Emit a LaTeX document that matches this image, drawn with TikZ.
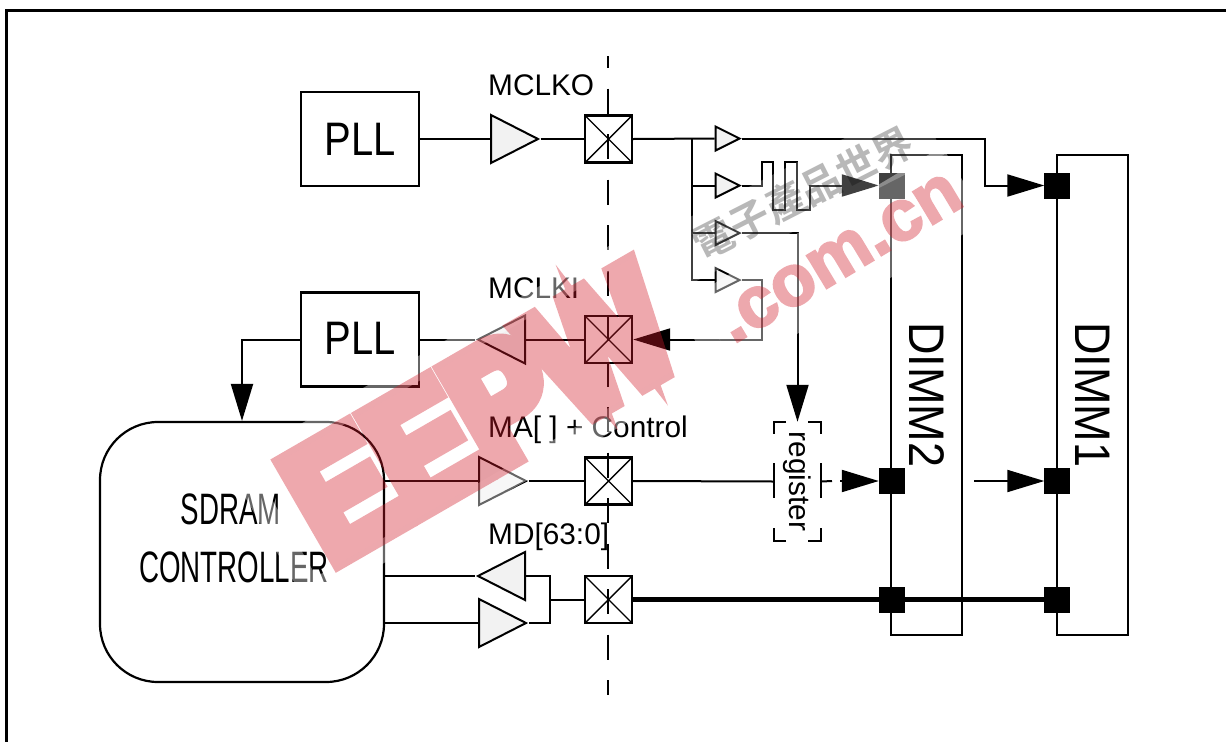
\documentclass[tikz,border=0pt]{standalone}
\usepackage{fontspec}
\setmainfont{Liberation Sans}
\newfontfamily\narrowfont[FakeStretch=.63]{Liberation Sans}
\newfontfamily\pllfont[FakeStretch=.85]{Liberation Sans}
\newfontfamily\dimmfont[FakeStretch=.9]{Liberation Sans}
\newfontfamily\markfont[FakeBold=10,FakeStretch=.84]{Liberation Sans Bold}
\newfontfamily\dotfont[FakeBold=3]{Liberation Sans Bold}
\newfontfamily\cjkmark{Noto Sans CJK TC Bold}
\usetikzlibrary{arrows.meta,calc,positioning}
\usetikzlibrary{shapes.geometric}
\definecolor{markred}{RGB}{210,26,40}
\tikzset{
wire/.style={line width=2pt},
tip/.style={-{Triangle[length=37pt,width=22pt]}},
blockbox/.style={draw,line width=2.2pt,minimum width=118pt,minimum height=94pt,inner sep=0pt},
buf/.style={isosceles triangle,isosceles triangle stretches,draw,line width=2pt,fill=black!5,inner sep=0pt,minimum width=48pt,minimum height=47pt,anchor=lower side},
smallbuf/.style={buf,minimum width=24pt,minimum height=24pt},
back/.style={shape border rotate=180},
pad/.style={draw,line width=2.4pt,minimum size=47pt,inner sep=0pt,
path picture={\draw[line width=1.4pt] (path picture bounding box.north west)--(path picture bounding box.south east)
(path picture bounding box.north east)--(path picture bounding box.south west);}},
drop/.style={draw,fill=black,minimum size=25pt,inner sep=0pt},
dimm/.style={draw,line width=2pt,rotate=-90,minimum width=480pt,minimum height=71pt,inner sep=0pt,font=\fontsize{50}{50}\dimmfont},
lab/.style={anchor=base west,inner sep=0pt,font=\fontsize{29.8}{30}\selectfont}
}
\begin{document}
\begin{tikzpicture}[x=1pt,y=-1pt]
\useasboundingbox (0,0) rectangle (1226,742);
\coordinate (F1) at (1226,10.5);
\coordinate (F2) at (6.5,10.5);
\coordinate (F3) at (6.5,742);
\draw[line width=2.6pt] (F1)--(F2)--(F3);
\node[blockbox,font=\fontsize{47}{47}\pllfont] (PLL1) at (360,139) {PLL};
\node[blockbox,font=\fontsize{47}{47}\pllfont] (PLL2) at (360,339.5) {\raisebox{2pt}{PLL}};
\node[draw,line width=2.2pt,rounded corners=58pt,minimum width=284pt,minimum height=260pt] (Ctl) at (242,552) {};
\node[font=\fontsize{44}{44}\narrowfont] (CtlA) at (231,509) {SDRAM};
\node[font=\fontsize{44}{44}\narrowfont] (CtlB) at (234,567) {CONTROLLER};
\node[buf] (T1) at (490,139) {};
\node[buf,back] (T2) at (526,339.5) {};
\node[buf] (T3) at (478,481) {};
\node[buf,back] (T4) at (526,576) {};
\node[buf] (T5) at (478,623) {};
\node[smallbuf] (S1) at (714.5,138.5) {};
\node[smallbuf] (S2) at (714.5,185.5) {};
\node[smallbuf] (S3) at (714.5,233) {};
\node[smallbuf] (S4) at (714.5,280) {};
\coordinate (C1) at (608,56);
\coordinate (C2) at (608,695);
\draw[wire,dash pattern=on 25pt off 20.5pt,dash phase=13pt] (C1)--(C2);
\node[pad] (P1) at (608.5,139) {};
\node[pad] (P2) at (608.5,339.5) {};
\node[pad] (P3) at (608.5,481) {};
\node[pad] (P4) at (608.5,599.5) {};
\node[dimm] (D2) at (926.5,395) {DIMM2};
\node[dimm] (D1) at (1092.5,395) {DIMM1};
\node[drop] (Q1) at (891.5,185.5) {};
\node[drop] (Q2) at (1057,185.5) {};
\node[drop] (Q3) at (891.5,481) {};
\node[drop] (Q4) at (1057,481) {};
\node[drop] (Q5) at (891.5,599.5) {};
\node[drop] (Q6) at (1057,599.5) {};
\node[rotate=-90,minimum width=119pt,minimum height=47pt,inner sep=0pt,font=\fontsize{29.8}{30}\selectfont] (Reg) at (797.5,481.5) {register};
\draw[wire] (786,422)-|(774,434) (808,422)-|(821,434) (786,541)-|(774,528) (808,541)-|(821,528);
\draw[wire] (774,463)--(774,498) (821,463)--(821,498);
\node[lab] (L1) at (488,95) {MCLKO};
\node[lab] (L2) at (488,298) {MCLKI};
\node[lab] (L3) at (488,437) {MA[ ] + Control};
\node[lab] (L4) at (488,544) {MD[63:0]};
\coordinate (J1) at (691.5,139);
\coordinate (J2) at (549.5,599.5);
\coordinate (A1) at (832,481);
\coordinate (A2) at (840,481);
\coordinate (A3) at (974,481);
\draw[wire] (PLL1.east)--(T1.lower side) (T1.apex)--(P1.west);
\draw[wire] (P1.east)--(S1.lower side);
\draw[wire] (J1)|-(S2.lower side) (J1)|-(S3.lower side) (J1)|-(S4.lower side);
\draw[wire,tip] (S1.apex)-|(985,185.5)--(Q2.west);
\draw[wire,tip] (S2.apex)-|(762,162)-|(773,210)-|(785,162)-|(797,210)-|(809.5,185.5)--(Q1.west);
\draw[wire,tip] (S3.apex)-|(Reg.west);
\draw[wire,tip] (S4.apex)-|(762,339.5)--(P2.east);
\draw[wire] (P2.west)--(T2.lower side) (T2.apex)--(PLL2.east);
\draw[wire,tip] (PLL2.west)-|(Ctl.north);
\draw[wire] (Ctl.east|-T3.lower side)--(T3.lower side) (T3.apex)--(P3.west);
\draw[wire] (P3.east)--(Reg.south) (Reg.north)--(A1);
\draw[wire,tip] (A2)--(Q3.west);
\draw[wire,tip] (A3)--(Q4.west);
\draw[line width=4.5pt] (P4.east)--(Q6);
\draw[wire] (T4.lower side)-|(J2)|-(T5.apex) (J2)--(P4.west);
\draw[wire] (Ctl.east|-T4.lower side)--(T4.apex);
\draw[wire] (Ctl.east|-T5.lower side)--(T5.lower side);
\begin{scope}[shift={(480,414)},rotate=30]
\fill[white,opacity=.4,even odd rule] (-245,-81) rectangle (245,81) (-223,-59) rectangle (223,59);
\end{scope}
\fill[white,opacity=.4,rotate around={31:(840,258)}] (695,215) rectangle (985,301);
\fill[white,opacity=.25,rotate around={27:(803,193)}] (660,163) rectangle (946,223);
\begin{scope}[transparency group,opacity=.38]
\node[rotate=30,inner sep=0pt,text=markred,font=\fontsize{166}{166}\markfont] (W1) at (480,414) {EEPW};
\node[rotate=31,inner sep=0pt,text=markred,font=\fontsize{72}{72}\dotfont] (W2) at (840,258) {.com.cn};
\end{scope}
\begin{scope}[transparency group,opacity=.28]
\node[rotate=27,inner sep=0pt,text=black,font=\fontsize{40}{40}\cjkmark] (W3) at (803,193) {電子產品世界};
\end{scope}
\end{tikzpicture}
\end{document}
